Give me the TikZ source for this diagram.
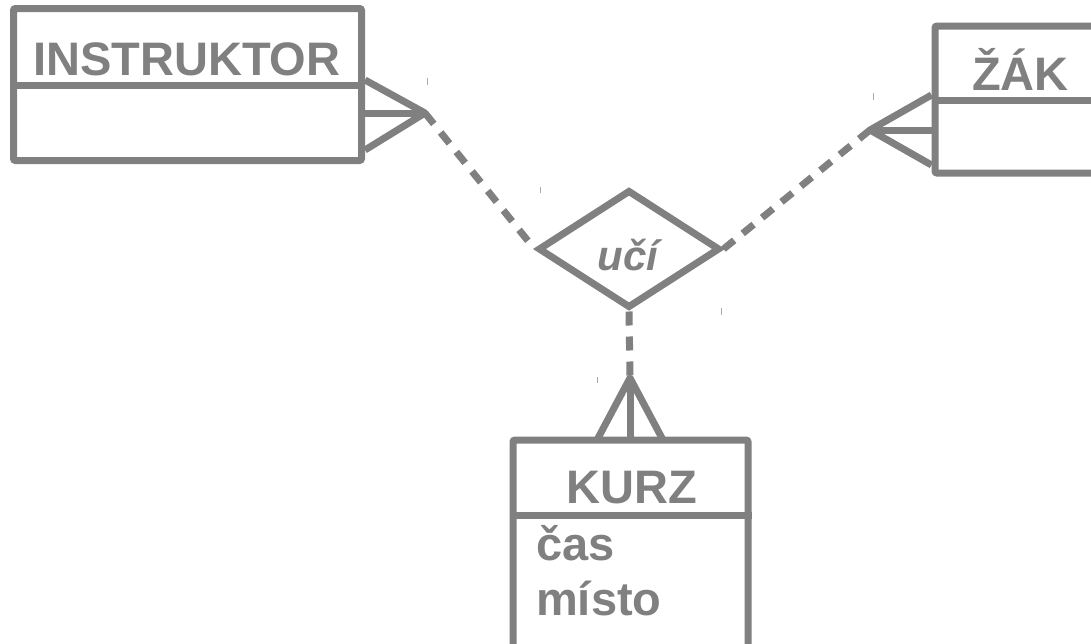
\documentclass[tikz,border=0pt]{standalone}
\usepackage{fontspec}
\setmainfont{Liberation Sans}
\usetikzlibrary{shapes.geometric}
\definecolor{ergray}{RGB}{128,128,128}
\definecolor{tickgray}{RGB}{170,170,170}
\tikzset{
  ent/.style={draw=ergray, line width=7pt, rounded corners=2pt, inner sep=0pt, minimum width=#1},
  divline/.style={draw=ergray, line width=7pt},
  foot/.style={draw=ergray, line width=7pt, line join=round},
  rel/.style={draw=ergray, line width=7pt, diamond, inner sep=0pt, minimum width=182pt, minimum height=118pt},
  link/.style={draw=ergray, line width=7pt, dash pattern=on 14pt off 11pt},
  etitle/.style={text=ergray, font=\bfseries\fontsize{47}{56}\selectfont, inner sep=0pt},
  rtitle/.style={text=ergray, font=\bfseries\itshape\fontsize{42}{50}\selectfont, inner sep=0pt},
  tick/.style={draw=tickgray, line width=1pt}
}
\begin{document}
\begin{tikzpicture}[x=1pt,y=-1pt]
\useasboundingbox (0,0) rectangle (1091,643);
\clip (0,0) rectangle (1091,643);
\fill[white] (0,0) rectangle (1091,643);
% INSTRUKTOR
\node[ent=348pt, minimum height=152pt] (instr) at (187.5,84.5) {};
\draw[divline] (instr.west |- 0,85) -- (instr.east |- 0,85);
\node[etitle, anchor=base west] (instrT) at (33,75) {INSTRUKTOR};
\coordinate (instrA) at (425,113);
\draw[foot] (instr.east |- 0,80) -- (instrA) -- (instr.east |- 0,150);
\draw[foot] (instr.east |- 0,113) -- (instrA);
% ZAK
\node[ent=215pt, minimum height=147pt] (zak) at (1042.5,99.5) {};
\draw[divline] (zak.west |- 0,100) -- (zak.east |- 0,100);
\node[etitle, anchor=base west] (zakT) at (972,90) {ŽÁK};
\coordinate (zakA) at (870,130);
\draw[foot] (zak.west |- 0,95) -- (zakA) -- (zak.west |- 0,165);
\draw[foot] (zak.west |- 0,130) -- (zakA);
% KURZ
\node[ent=235pt, minimum height=220pt] (kurz) at (630.5,550) {};
\draw[divline] (kurz.west |- 0,515) -- (kurz.east |- 0,515);
\node[etitle, anchor=base] (kurzT) at (632,503) {KURZ};
\node[etitle, anchor=base west] (cas) at (536,560) {čas};
\node[etitle, anchor=base west] (misto) at (536,615) {místo};
\coordinate (kurzA) at (630,378);
\draw[foot] (597,440) -- (kurzA) -- (663,440);
\draw[foot] (kurzA) -- (kurzA |- kurz.north);
% relationship
\node[rel] (uci) at (629,249) {};
\node[rtitle, anchor=base] (uciT) at (628,270) {učí};
% connectors
\draw[link] (instrA) -- (uci.west);
\draw[link] (zakA) -- (uci.east);
\draw[link] (uci.south) -- (kurzA);
% small ticks
\draw[tick] (427,78) -- (427,85);
\draw[tick] (873,93) -- (873,100);
\draw[tick] (540,187) -- (540,193);
\draw[tick] (721,308) -- (721,315);
\draw[tick] (597,377) -- (597,383);
\end{tikzpicture}
\end{document}
